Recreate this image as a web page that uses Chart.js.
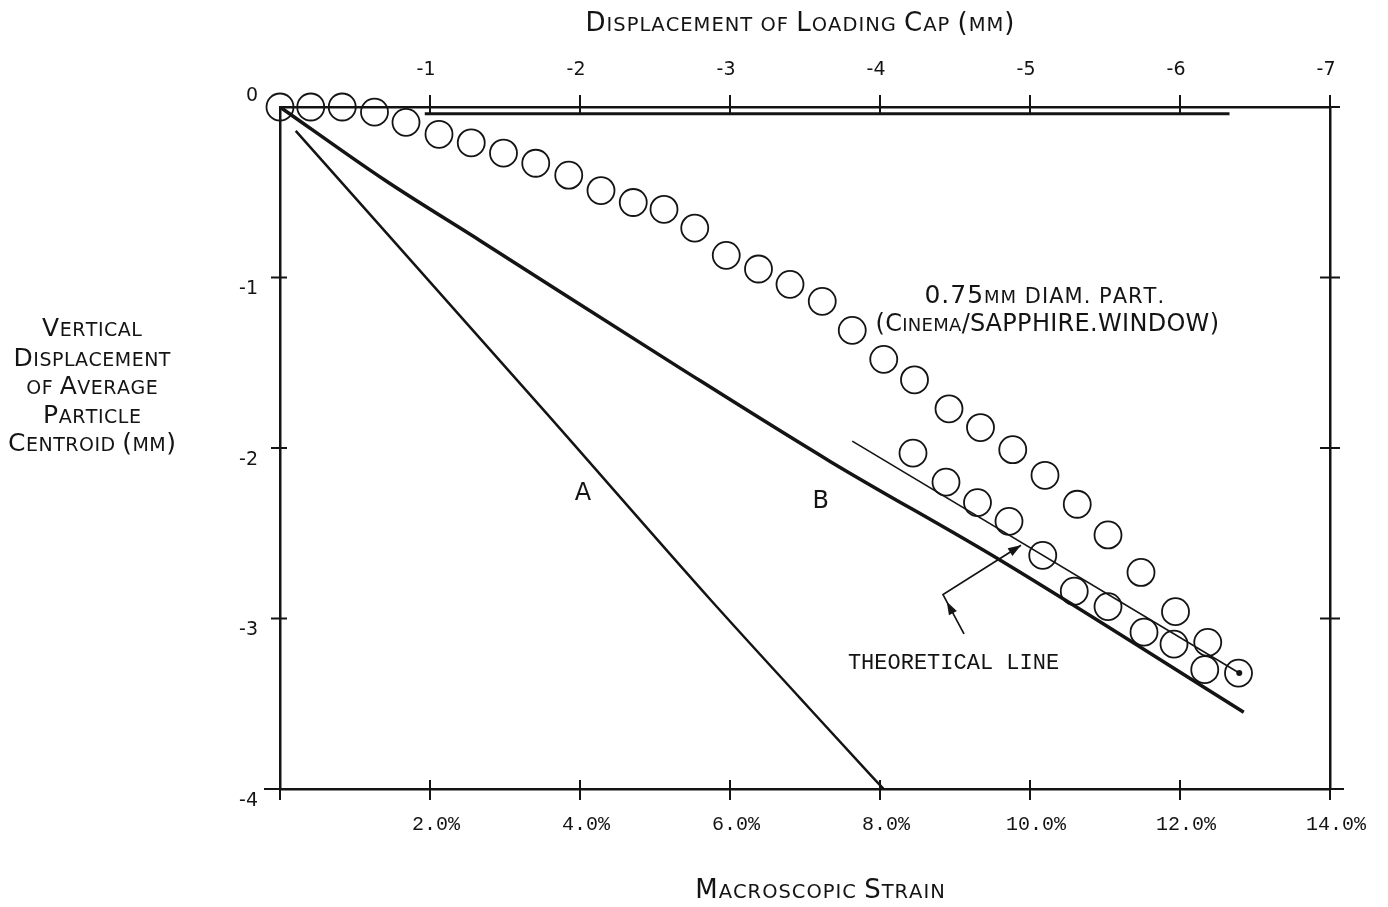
<!DOCTYPE html>
<html><head><meta charset="utf-8">
<script src="https://cdn.jsdelivr.net/npm/chart.js@4.4.1/dist/chart.umd.min.js"></script>
<style>html,body{margin:0;padding:0;background:#fff;}#wrap{width:1388px;height:907px;}</style>
</head><body><div id="wrap"><canvas id="c" width="1388" height="907"></canvas></div>
<script>
// ---- tick labels ----
const strainTickLabels = ['', '2.0%', '4.0%', '6.0%', '8.0%', '10.0%', '12.0%', '14.0%'];
const capTickLabels = ['', '-1', '-2', '-3', '-4', '-5', '-6', '-7'];
const dispTickLabels = ['0', '-1', '-2', '-3', '-4'];

// ---- particle centroid data (circles) : strain %, vertical displacement mm ----
const particleStrainUpper = [0.0, 0.41, 0.83, 1.26, 1.68, 2.12, 2.55, 2.98, 3.41, 3.85, 4.28, 4.71, 5.12, 5.53, 5.95, 6.38, 6.80, 7.23, 7.63, 8.05, 8.46, 8.92, 9.34, 9.77, 10.20, 10.63, 11.04, 11.48, 11.94, 12.37, 12.78];
const particleDispUpper   = [0.0, 0.0, 0.0, -0.03, -0.09, -0.16, -0.21, -0.27, -0.33, -0.40, -0.49, -0.56, -0.60, -0.71, -0.87, -0.95, -1.04, -1.14, -1.31, -1.48, -1.60, -1.77, -1.88, -2.01, -2.16, -2.33, -2.51, -2.73, -2.96, -3.14, -3.32];
const particleStrainLower = [8.44, 8.88, 9.30, 9.72, 10.17, 10.59, 11.04, 11.52, 11.92, 12.33];
const particleDispLower   = [-2.03, -2.20, -2.32, -2.43, -2.63, -2.84, -2.93, -3.08, -3.15, -3.30];

// ---- curves ----
const lineAStrain = [0.21, 3.56, 5.74, 6.94, 7.90, 8.05];
const lineADisp   = [-0.14, -1.80, -2.89, -3.47, -3.93, -4.0];
const lineBStrain = [0.0, 1.40, 2.69, 5.33, 7.34, 9.61, 12.85];
const lineBDisp   = [0.0, -0.43, -0.79, -1.53, -2.08, -2.66, -3.55];
const theoryStrain = [7.63, 12.79];
const theoryDisp   = [-1.96, -3.32];
const capLineStrain = [1.93, 12.66];
const capLineDisp   = [-0.04, -0.04];

// ---- annotation arrow (data units) ----
const arrowStrain = [9.12, 8.84, 9.88];
const arrowDisp   = [-3.09, -2.86, -2.57];

const INK = '#141414';
const zip = (xs, ys) => xs.map((x, i) => ({x: x, y: ys[i]}));

function drawParts(ctx, parts, cx, baseline, family, spacing) {
  let total = 0;
  parts.forEach(p => {
    ctx.font = p[1] + 'px "' + family + '"';
    for (const ch of p[0]) total += ctx.measureText(ch).width + spacing;
  });
  total -= spacing;
  let x = cx - total / 2;
  ctx.textAlign = 'left';
  ctx.textBaseline = 'alphabetic';
  parts.forEach(p => {
    ctx.font = p[1] + 'px "' + family + '"';
    for (const ch of p[0]) {
      ctx.fillText(ch, x, baseline);
      x += ctx.measureText(ch).width + spacing;
    }
  });
}
function sc(text, big, small) {
  const parts = [];
  for (const ch of text) {
    const isLower = ch >= 'a' && ch <= 'z';
    const isSmall = isLower || ch === ' ';
    const size = isSmall ? small : big;
    const c = ch.toUpperCase();
    if (parts.length && parts[parts.length - 1][1] === size) parts[parts.length - 1][0] += c;
    else parts.push([c, size]);
  }
  return parts;
}

const decor = {
  id: 'decor',
  afterDraw(chart) {
    const ctx = chart.ctx;
    const xs = chart.scales.x, ys = chart.scales.y, x2 = chart.scales.x2;
    const a = chart.chartArea;
    ctx.save();
    ctx.strokeStyle = INK; ctx.fillStyle = INK; ctx.lineWidth = 2;
    // crossing tick marks
    ctx.beginPath();
    for (let v = 0; v <= 14; v += 2) { const px = xs.getPixelForValue(v); ctx.moveTo(px, a.bottom - 9); ctx.lineTo(px, a.bottom + 11); }
    for (let v = -1; v >= -7; v--) { const px = x2.getPixelForValue(v); ctx.moveTo(px, a.top - 12); ctx.lineTo(px, a.top + 8); }
    for (let v = -1; v >= -4; v--) { const py = ys.getPixelForValue(v); ctx.moveTo(a.left - 9, py); ctx.lineTo(a.left + 7, py); }
    for (let v = 0; v >= -4; v--) { const py = ys.getPixelForValue(v); ctx.moveTo(a.right - 10, py); ctx.lineTo(a.right + 10, py); }
    ctx.moveTo(a.left - 16, a.bottom); ctx.lineTo(a.left, a.bottom);
    ctx.moveTo(a.right, a.bottom); ctx.lineTo(a.right + 14, a.bottom);
    ctx.stroke();

    // arrow annotation
    const P = arrowStrain.map((s, i) => [xs.getPixelForValue(s), ys.getPixelForValue(arrowDisp[i])]);
    ctx.lineWidth = 1.7;
    ctx.beginPath(); ctx.moveTo(P[0][0], P[0][1]); ctx.lineTo(P[1][0], P[1][1]); ctx.lineTo(P[2][0], P[2][1]); ctx.stroke();
    const head = (from, to, back) => {
      const ang = Math.atan2(to[1] - from[1], to[0] - from[0]);
      const tx = to[0] - Math.cos(ang) * back, ty = to[1] - Math.sin(ang) * back;
      const L = 13, W = 4.5;
      ctx.beginPath();
      ctx.moveTo(tx, ty);
      ctx.lineTo(tx - Math.cos(ang) * L - Math.sin(ang) * W, ty - Math.sin(ang) * L + Math.cos(ang) * W);
      ctx.lineTo(tx - Math.cos(ang) * L + Math.sin(ang) * W, ty - Math.sin(ang) * L - Math.cos(ang) * W);
      ctx.closePath(); ctx.fill();
    };
    head(P[0], P[1], 8);
    head(P[1], P[2], 0);

    // texts
    const fam = 'DejaVu Sans';
    drawParts(ctx, sc('Displacement of Loading Cap (mm)', 26, 19.5), 800, 31, fam, 1);
    drawParts(ctx, sc('Macroscopic Strain', 26, 19.5), 820, 898, fam, 1);
    const yl = ['Vertical', 'Displacement', 'of Average', 'Particle', 'Centroid (mm)'];
    const yb = [336, 366, 394, 423, 451];
    yl.forEach((t, i) => drawParts(ctx, sc(t, 25, 19), 92, yb[i], fam, 0.5));
    const tx = (s) => xs.getPixelForValue(s), ty = (d) => ys.getPixelForValue(d);
    drawParts(ctx, [['A', 24]], tx(4.04), ty(-2.25) + 9, fam, 0);
    drawParts(ctx, [['B', 24]], tx(7.21), ty(-2.30) + 9, fam, 0);
    drawParts(ctx, [['0.75', 25], ['MM', 18], [' DIAM. PART.', 21]], tx(10.19), ty(-1.096) + 9, fam, 1);
    drawParts(ctx, sc('(Cinema/SAPPHIRE.WINDOW)', 24, 18), tx(10.23), ty(-1.26) + 9, fam, 0.3);
    drawParts(ctx, [['THEORETICAL LINE', 22]], tx(8.98), ty(-3.25) + 8, 'Liberation Mono', 0);
    ctx.restore();
  }
};

const axisBase = (pos) => ({
  type: 'linear', position: pos,
  grid: { display: true, drawOnChartArea: false, drawTicks: false },
  border: { display: true, color: INK, width: 2.5 },
});

new Chart(document.getElementById('c'), {
  type: 'scatter',
  data: {
    datasets: [
      { label: 'Loading cap', data: zip(capLineStrain, capLineDisp), showLine: true, borderColor: INK, borderWidth: 3, pointRadius: 0 },
      { label: 'A', data: zip(lineAStrain, lineADisp), showLine: true, borderColor: INK, borderWidth: 2.5, pointRadius: 0, cubicInterpolationMode: 'monotone' },
      { label: 'B', data: zip(lineBStrain, lineBDisp), showLine: true, borderColor: INK, borderWidth: 3.5, pointRadius: 0, cubicInterpolationMode: 'monotone' },
      { label: 'Theoretical line', data: zip(theoryStrain, theoryDisp), showLine: true, borderColor: INK, borderWidth: 1.6, pointRadius: [0, 3], pointBackgroundColor: INK, pointBorderWidth: 0 },
      { label: 'Particles', data: zip(particleStrainUpper, particleDispUpper), showLine: false, pointRadius: 13.5, pointBorderWidth: 1.8, pointBorderColor: INK, pointBackgroundColor: 'rgba(0,0,0,0)', clip: false },
      { label: 'Particles 2', data: zip(particleStrainLower, particleDispLower), showLine: false, pointRadius: 13.5, pointBorderWidth: 1.8, pointBorderColor: INK, pointBackgroundColor: 'rgba(0,0,0,0)', clip: false }
    ]
  },
  options: {
    responsive: false, animation: false, devicePixelRatio: 1,
    layout: { padding: 0 },
    plugins: { legend: { display: false }, tooltip: { enabled: false } },
    scales: {
      x: Object.assign(axisBase('bottom'), {
        min: 0, max: 14,
        ticks: { stepSize: 2, autoSkip: false, maxRotation: 0, padding: 24, labelOffset: 6, color: INK,
          font: { family: 'Liberation Mono', size: 20 }, callback: (v) => strainTickLabels[Math.round(v / 2)] },
        afterFit: (s) => { s.height = 118; }
      }),
      x2: Object.assign(axisBase('top'), {
        min: -7, max: 0, reverse: true,
        ticks: { stepSize: 1, autoSkip: false, maxRotation: 0, padding: 26, labelOffset: -4, color: INK,
          font: { family: 'DejaVu Sans', size: 19 }, callback: (v) => capTickLabels[Math.round(-v)] },
        afterFit: (s) => { s.height = 107; }
      }),
      y: Object.assign(axisBase('left'), {
        min: -4, max: 0,
        ticks: { stepSize: 1, padding: 22, labelOffset: 12, color: INK,
          font: { family: 'DejaVu Sans', size: 19 },
          callback: (v) => v === 0 ? [dispTickLabels[0], '', ''] : dispTickLabels[Math.round(-v)] },
        afterFit: (s) => { s.width = 280; }
      }),
      y2: Object.assign(axisBase('right'), {
        min: -4, max: 0,
        ticks: { display: false, stepSize: 1 },
        afterFit: (s) => { s.width = 58; }
      })
    }
  },
  plugins: [decor]
});
</script>
</body></html>
